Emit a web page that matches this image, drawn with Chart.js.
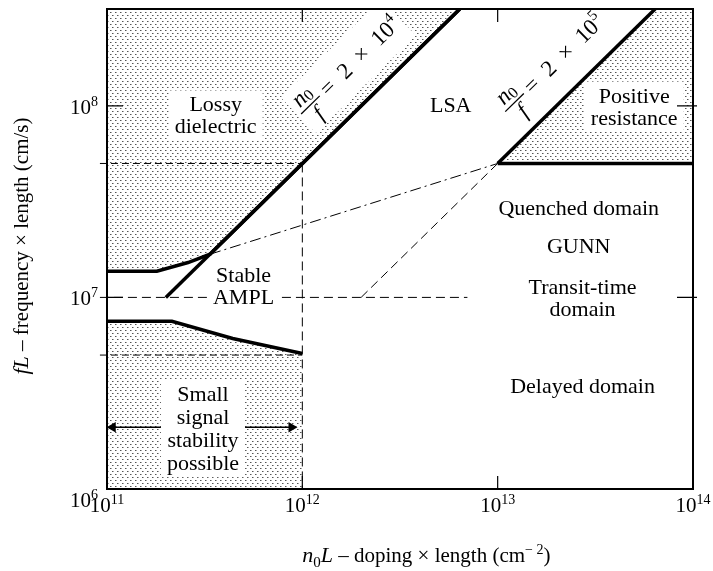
<!DOCTYPE html>
<html>
<head>
<meta charset="utf-8">
<script src="https://cdn.jsdelivr.net/npm/chart.js@4.4.1/dist/chart.umd.min.js"></script>
<style>
  html, body { margin: 0; padding: 0; background: #fff; }
  #wrap { width: 713px; height: 571px; }
</style>
</head>
<body>
<div id="wrap"><canvas id="chart" width="713" height="571"></canvas></div>
<script>
// x: doping x length (cm^-2), y: frequency x length (cm/s), both log
const xTicks = [1e11, 1e12, 1e13, 1e14]
const yTicks = [1e6, 1e7, 1e8]
const yTop = 3.2e8

// region boundaries
const lossyEdge = [[1e11, 1.37e7], [1.8e11, 1.37e7], [2.6e11, 1.52e7], [3.37e11, 1.68e7], [6.4e12, 3.2e8]]
const line2e4 = [[2e11, 1e7], [6.4e12, 3.2e8]]
const stabilityEdge = [[1e11, 7.5e6], [2.15e11, 7.5e6], [4.4e11, 6.1e6], [1e12, 5.1e6]]
const line2e5 = [[1e13, 5e7], [6.4e13, 3.2e8]]
const positiveEdge = [[1e13, 5e7], [6.4e13, 3.2e8], [1e14, 3.2e8]]
const positiveFloor = [[1e13, 5e7], [1e14, 5e7]]

// dashed guides (the horizontal ones poke a little past the left frame)
const dash5e7 = [[9.2e10, 5e7], [1e12, 5e7]]
const dash5e6 = [[9.2e10, 5e6], [1e12, 5e6]]
const dash1e7 = [[9.2e10, 1e7], [7e12, 1e7]]
const dashV = [[1e12, 5e7], [1e12, 1e6]]
const dashDiag = [[2e12, 1e7], [1e13, 5e7]]
const dashDot = [[3.37e11, 1.68e7], [1e13, 5e7]]
const arrowRow = [[1.07e11, 2.1e6], [8.8e11, 2.1e6]]

const regionLabels = [
  { lines: ["Lossy", "dielectric"], at: [3.6e11, 8.9e7], box: true },
  { lines: ["Stable", "AMPL"], at: [5.0e11, 1.15e7], box: true },
  { lines: ["LSA"], at: [5.75e12, 1.01e8] },
  { lines: ["Positive", "resistance"], at: [5.0e13, 9.9e7], box: true },
  { lines: ["Quenched domain"], at: [2.6e13, 2.93e7] },
  { lines: ["GUNN"], at: [2.6e13, 1.86e7] },
  { lines: ["Transit-time", "domain"], at: [2.72e13, 9.9e6] },
  { lines: ["Delayed domain"], at: [2.72e13, 3.45e6] },
  { lines: ["Small", "signal", "stability", "possible"], at: [3.1e11, 2.08e6], box: true, lh: 23 }
]
const slopeLabels = [
  { exp: "4", at: [1.1e12, 1.01e8], along: line2e4 },
  { exp: "5", at: [1.22e13, 1.04e8], along: line2e5 }
]

const serif = '"Liberation Serif", "DejaVu Serif", serif'
const font = (size, style = "") => `${style} ${size}px ${serif}`.trim()

function stipple() {
  const c = document.createElement("canvas")
  c.width = 5
  c.height = 6
  const g = c.getContext("2d")
  g.fillStyle = "#fff"
  g.fillRect(0, 0, 5, 6)
  g.fillStyle = "#555"
  g.fillRect(0, 0, 1, 1)
  g.fillRect(2, 3, 1, 1)
  g.fillStyle = "#aaa"
  g.fillRect(1, 0, 1, 1)
  g.fillRect(3, 3, 1, 1)
  return document.getElementById("chart").getContext("2d").createPattern(c, "repeat")
}
const dots = stipple()

const pts = (a) => a.map(([x, y]) => ({ x, y }))
const seg = (data, opts) => Object.assign({
  data: pts(data), borderColor: "#000", borderWidth: 1, pointRadius: 0, fill: false, order: 5
}, opts)

function runsWidth(ctx, runs) {
  let w = 0
  for (const r of runs) { ctx.font = r.font; w += ctx.measureText(r.t).width }
  return w
}
function drawRuns(ctx, runs, x, y) {
  for (const r of runs) {
    ctx.font = r.font
    ctx.fillText(r.t, x, y + (r.dy || 0))
    x += ctx.measureText(r.t).width
  }
}

const figure = {
  id: "figure",
  afterDatasetsDraw(chart) {
    const { ctx, scales: { x, y } } = chart
    ctx.save()
    for (const lab of regionLabels) {
      const cx = x.getPixelForValue(lab.at[0])
      const cy = y.getPixelForValue(lab.at[1])
      const lh = lab.lh || 22
      ctx.font = font(22)
      const w = Math.max(...lab.lines.map((s) => ctx.measureText(s).width))
      const h = lab.lines.length * lh
      if (lab.box) {
        ctx.fillStyle = "#fff"
        ctx.fillRect(cx - w / 2 - 6, cy - h / 2 - 3, w + 12, h + 6)
      }
      ctx.fillStyle = "#000"
      ctx.textAlign = "center"
      ctx.textBaseline = "alphabetic"
      lab.lines.forEach((s, i) => ctx.fillText(s, cx, cy - h / 2 + lh * (i + 0.5) + 7))
    }

    for (const sl of slopeLabels) {
      const p0 = sl.along[0]
      const p1 = sl.along[sl.along.length - 1]
      const ang = Math.atan2(
        y.getPixelForValue(p1[1]) - y.getPixelForValue(p0[1]),
        x.getPixelForValue(p1[0]) - x.getPixelForValue(p0[0])
      )
      ctx.save()
      ctx.translate(x.getPixelForValue(sl.at[0]), y.getPixelForValue(sl.at[1]))
      ctx.rotate(ang)
      ctx.fillStyle = "#fff"
      ctx.fillRect(-16, -26, 140, 50)
      ctx.fillStyle = "#000"
      ctx.textAlign = "left"
      ctx.textBaseline = "alphabetic"
      const num = [{ t: "n", font: font(23, "italic") }, { t: "0", font: font(16), dy: 2 }]
      drawRuns(ctx, num, -runsWidth(ctx, num) / 2, -5)
      ctx.lineWidth = 1.3
      ctx.strokeStyle = "#000"
      ctx.beginPath()
      ctx.moveTo(-13, 0)
      ctx.lineTo(13, 0)
      ctx.stroke()
      ctx.font = font(23, "italic")
      ctx.textAlign = "center"
      ctx.fillText("f", 0, 19)
      ctx.textAlign = "left"
      drawRuns(ctx, [{ t: "=  2  ×  10", font: font(23) }, { t: sl.exp, font: font(15), dy: -10 }], 18, 7)
      ctx.restore()
    }
    ctx.restore()
  },
  afterDraw(chart) {
    const { ctx, chartArea: a, scales: { x, y } } = chart
    ctx.save()
    ctx.strokeStyle = "#000"
    ctx.fillStyle = "#000"
    ctx.lineWidth = 2
    ctx.strokeRect(a.left, a.top, a.right - a.left, a.bottom - a.top)

    // short inward ticks at inner decades
    ctx.lineWidth = 1.2
    ctx.beginPath()
    xTicks.slice(1, -1).forEach((v) => {
      const px = x.getPixelForValue(v)
      ctx.moveTo(px, a.top); ctx.lineTo(px, a.top + 13)
      ctx.moveTo(px, a.bottom); ctx.lineTo(px, a.bottom - 13)
    })
    yTicks.slice(1).forEach((v) => {
      const py = y.getPixelForValue(v)
      ctx.moveTo(a.left, py); ctx.lineTo(a.left + 16, py)
      ctx.moveTo(a.right + 4, py); ctx.lineTo(a.right - 16, py)
    })
    ctx.stroke()

    // tick labels 10^n
    ctx.textAlign = "left"
    ctx.textBaseline = "alphabetic"
    const lbl = (v) => [{ t: "10", font: font(21) }, { t: String(Math.round(Math.log10(v))), font: font(14), dy: -8 }]
    xTicks.forEach((v) => {
      const runs = lbl(v)
      drawRuns(ctx, runs, x.getPixelForValue(v) - runsWidth(ctx, runs) / 2, a.bottom + 23)
    })
    yTicks.forEach((v, i) => {
      const runs = lbl(v)
      const base = y.getPixelForValue(v) + (i === 0 ? 18 : 8)
      drawRuns(ctx, runs, a.left - 9 - runsWidth(ctx, runs), base)
    })

    // axis titles
    const xt = [
      { t: "n", font: font(22, "italic") }, { t: "0", font: font(15), dy: 5 },
      { t: "L", font: font(22, "italic") }, { t: " – doping × length (cm", font: font(21) },
      { t: "− 2", font: font(14), dy: -8 }, { t: ")", font: font(21) }
    ]
    drawRuns(ctx, xt, a.left + (a.right - a.left) * 0.545 - runsWidth(ctx, xt) / 2, a.bottom + 73)

    const yt = [{ t: "fL", font: font(22, "italic") }, { t: " – frequency × length (cm/s)", font: font(21) }]
    ctx.save()
    ctx.translate(a.left - 79, (a.top + a.bottom) / 2 - 3)
    ctx.rotate(-Math.PI / 2)
    drawRuns(ctx, yt, -runsWidth(ctx, yt) / 2, 0)
    ctx.restore()
    ctx.restore()
  }
}

new Chart(document.getElementById("chart"), {
  type: "line",
  data: {
    datasets: [
      seg(lossyEdge, { fill: "end", backgroundColor: dots, borderWidth: 3.5, order: 10 }),
      seg(stabilityEdge, { fill: "start", backgroundColor: dots, borderWidth: 3.5, order: 10 }),
      seg(positiveEdge, { fill: { value: 5e7 }, backgroundColor: dots, borderWidth: 0, order: 10 }),
      seg(dash5e7, { borderDash: [7, 4], clip: false }),
      seg(dash5e6, { borderDash: [7, 4], clip: false }),
      seg(dash1e7, { borderDash: [9, 5], clip: false }),
      seg(dashV, { borderDash: [9, 5] }),
      seg(dashDiag, { borderDash: [9, 5] }),
      seg(dashDot, { borderDash: [11, 4, 2, 4] }),
      seg(arrowRow, {
        borderWidth: 1.5, pointRadius: 6, pointStyle: "triangle",
        pointRotation: [-90, 90], pointBackgroundColor: "#000", pointBorderWidth: 0
      }),
      seg(line2e4, { borderWidth: 3.5, order: 1 }),
      seg(line2e5, { borderWidth: 3.5, order: 1 }),
      seg(positiveFloor, { borderWidth: 3.5, order: 1 })
    ]
  },
  options: {
    responsive: false,
    animation: false,
    events: [],
    layout: { padding: { top: 9, right: 20, left: 0, bottom: 0 } },
    plugins: { legend: { display: false }, tooltip: { enabled: false } },
    elements: { line: { tension: 0 } },
    scales: {
      x: {
        type: "logarithmic", min: 1e11, max: 1e14,
        grid: { display: false }, border: { display: false }, ticks: { display: false },
        afterFit: (s) => { s.height = 82 }
      },
      y: {
        type: "logarithmic", min: 1e6, max: yTop,
        grid: { display: false }, border: { display: false }, ticks: { display: false },
        afterFit: (s) => { s.width = 107 }
      }
    }
  },
  plugins: [figure]
})
</script>
</body>
</html>
